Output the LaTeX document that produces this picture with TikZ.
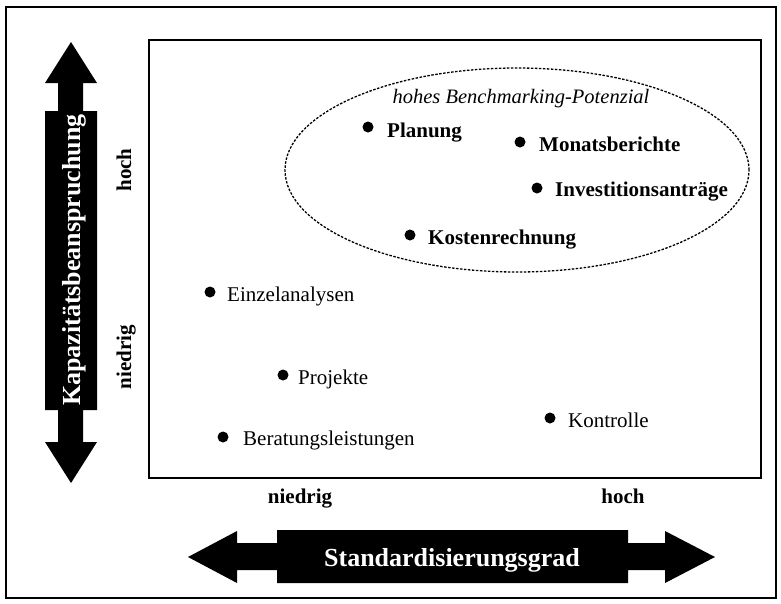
\documentclass[tikz,border=0pt]{standalone}
\usepackage{fontspec}
\setmainfont{Liberation Serif}
\usetikzlibrary{shapes.geometric}
\begin{document}
\begin{tikzpicture}[x=1pt,y=-1pt,
  lbl/.style={anchor=base west,inner sep=0pt,font=\fontsize{21}{25}\selectfont},
  blbl/.style={lbl,font=\fontsize{21}{25}\selectfont\bfseries},
  dot/.style={circle,fill=black,inner sep=0pt,minimum size=11pt},
  axl/.style={anchor=base,inner sep=0pt,font=\fontsize{21}{25}\selectfont\bfseries},
  bigarrow/.style={fill=black,draw=none},
  title/.style={anchor=base,inner sep=0pt,text=white,font=\fontsize{26}{30}\selectfont\bfseries}]
\useasboundingbox (0,0) rectangle (781,603);
% outer frame
\draw[line width=2pt] (6,7) rectangle (776,598);
% plot box
\draw[line width=1.3pt] (149,40) rectangle (761,478);
% vertical arrow
\fill[bigarrow] (71,42) -- (97,83) -- (83,83) -- (83,111) -- (97,111) -- (97,410)
  -- (83,410) -- (83,442) -- (97,442) -- (71,483) -- (45,442) -- (58,442)
  -- (58,410) -- (45,410) -- (45,111) -- (58,111) -- (58,83) -- (45,83) -- cycle;
\node[title,rotate=90] (kap) at (80,260) {Kapazitätsbeanspruchung};
% horizontal arrow
\fill[bigarrow] (188,557) -- (237,531) -- (237,543) -- (277,543) -- (277,530) -- (628,530)
  -- (628,543) -- (665,543) -- (665,531) -- (715,557) -- (665,583) -- (665,570)
  -- (628,570) -- (628,583) -- (277,583) -- (277,570) -- (237,570) -- (237,583) -- cycle;
\node[title] (std) at (452,566) {Standardisierungsgrad};
% axis labels
\node[axl,rotate=90] (yhoch) at (131,170) {hoch};
\node[axl,rotate=90] (yniedrig) at (131,357) {niedrig};
\node[axl] (xniedrig) at (300,503) {niedrig};
\node[axl] (xhoch) at (623,503) {hoch};
% ellipse
\node[draw,ellipse,line width=1.3pt,dash pattern=on 2.5pt off 1.5pt,
  minimum width=464pt,minimum height=204pt,inner sep=0pt] (ell) at (517,170) {};
\node[anchor=base,inner sep=0pt,font=\fontsize{20.5}{25}\selectfont\itshape] (bm) at (521,103) {hohes Benchmarking-Potenzial};
% points
\node[dot] (p1) at (368,127) {};
\node[blbl] (t1) at (387,137) {Planung};
\node[dot] (p2) at (520,142) {};
\node[blbl] (t2) at (539,151) {Monatsberichte};
\node[dot] (p3) at (537,188) {};
\node[blbl] (t3) at (555,196) {Investitionsanträge};
\node[dot] (p4) at (410,235) {};
\node[blbl] (t4) at (428,244) {Kostenrechnung};
\node[dot] (p5) at (210,292) {};
\node[lbl] (t5) at (227,301) {Einzelanalysen};
\node[dot] (p6) at (283,375) {};
\node[lbl] (t6) at (298,384) {Projekte};
\node[dot] (p7) at (223,437) {};
\node[lbl] (t7) at (243,445) {Beratungsleistungen};
\node[dot] (p8) at (550,418) {};
\node[lbl] (t8) at (568,427) {Kontrolle};
\end{tikzpicture}
\end{document}
